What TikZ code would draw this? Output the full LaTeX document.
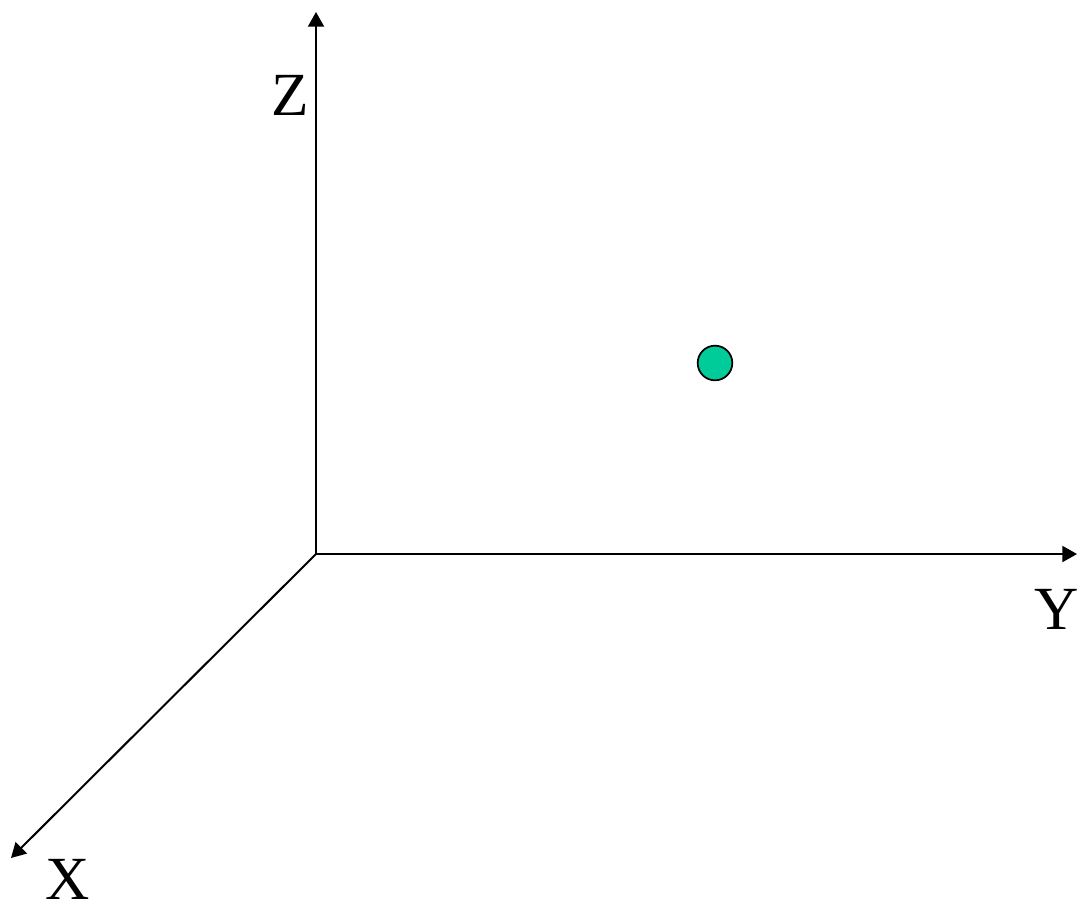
\documentclass[tikz,border=0pt]{standalone}
\usepackage{fontspec}
\setmainfont{Liberation Serif}
\usetikzlibrary{arrows.meta}
\begin{document}
\begin{tikzpicture}[x=0.75pt,y=-0.75pt,
  axis/.style={line width=1.5pt,-{Triangle[length=11pt,width=12pt]}},
  axlabel/.style={font=\fontsize{46}{50}\selectfont,anchor=base,inner sep=0pt},
  point/.style={circle,draw=black,line width=1.3pt,fill=ptcol,minimum size=26pt,inner sep=0pt}]
\definecolor{ptcol}{RGB}{0,204,153}
\useasboundingbox (0,0) rectangle (1077,904);
\coordinate (O) at (316,554);
\coordinate (Zend) at (316,12);
\coordinate (Yend) at (1077,554);
\coordinate (Xend) at (11,858);
\draw[axis] (O) -- (Zend);
\draw[axis] (O) -- (Yend);
\draw[axis] (O) -- (Xend);
\node[axlabel] (zl) at (290,115) {Z};
\node[axlabel] (yl) at (1057,629) {Y};
\node[axlabel] (xl) at (68,899) {X};
\node[point] (p) at (715,363) {};
\end{tikzpicture}
\end{document}
